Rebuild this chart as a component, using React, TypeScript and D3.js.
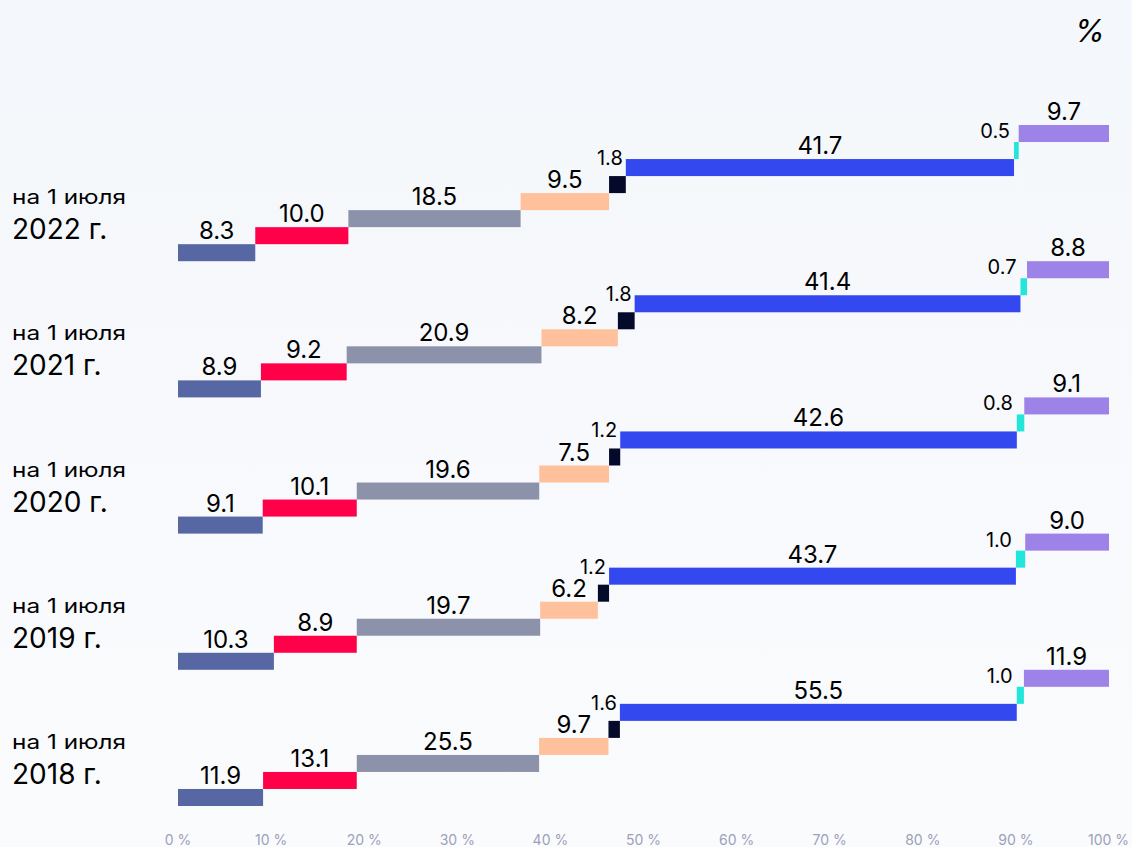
import React from "react";
import * as d3 from "d3";

const years = ["2022", "2021", "2020", "2019", "2018"];
// shares per group, in the order they are drawn left to right
const values2022 = [8.3, 10.0, 18.5, 9.5, 1.8, 41.7, 0.5, 9.7];
const values2021 = [8.9, 9.2, 20.9, 8.2, 1.8, 41.4, 0.7, 8.8];
const values2020 = [9.1, 10.1, 19.6, 7.5, 1.2, 42.6, 0.8, 9.1];
const values2019 = [10.3, 8.9, 19.7, 6.2, 1.2, 43.7, 1.0, 9.0];
const values2018 = [11.9, 13.1, 25.5, 9.7, 1.6, 55.5, 1.0, 11.9];
const seriesColors = ["#5767a4", "#ff0049", "#8d92ab", "#ffc19b", "#050a2b", "#3448f0", "#22e6da", "#9d82e8"];
const xTicks = [0, 10, 20, 30, 40, 50, 60, 70, 80, 90, 100];

const rows = [values2022, values2021, values2020, values2019, values2018];

const W = 1132;
const H = 847;
const font = "Inter, 'Noto Sans', sans-serif";

export default function App() {
  const x = d3.scaleLinear().domain([0, 100]).range([178, 1109]);
  const y = d3.scaleBand().domain(years).range([125, 806]);
  // each segment climbs one step above the previous one
  const step = d3
    .scaleBand<number>()
    .domain(d3.range(8))
    .range([0, y.bandwidth()]);

  return (
    <svg
      width={W}
      height={H}
      style={{ position: "absolute", left: 0, top: 0, display: "block" }}
      fontFamily={font}
    >
      <defs>
        <linearGradient id="bg" x1="0" y1="0" x2="0" y2="1">
          <stop offset="0" stopColor="#f4f7fb" />
          <stop offset="1" stopColor="#fafbfd" />
        </linearGradient>
      </defs>
      <rect width={W} height={H} fill="url(#bg)" />

      <text x={1105} y={42} textAnchor="end" fontSize={31} fontStyle="italic" fill="#000">
        %
      </text>

      {rows.map((vals, r) => {
        const year = years[r];
        const total = d3.sum(vals);
        const base = (y(year) as number) + y.bandwidth();
        let acc = 0;
        return (
          <g key={year}>
            <text x={12} y={base - 57} fontSize={20} fill="#000" textLength={114} lengthAdjust="spacingAndGlyphs">
              на 1 июля
            </text>
            <text x={12} y={base - 22} fontSize={28} fill="#000">
              {year} г.
            </text>
            {vals.map((v, k) => {
              const x0 = x((acc / total) * 100);
              acc += v;
              const x1 = x((acc / total) * 100);
              const top = base - (step(k) as number) - step.bandwidth();
              let label;
              if (k === 4) {
                // thin dark segment: label up and to the left
                label = (
                  <text x={x1 - 3} y={top - 11} textAnchor="end" fontSize={20} fill="#000">
                    {v.toFixed(1)}
                  </text>
                );
              } else if (k === 6) {
                label = (
                  <text x={x0 - 4} y={top - 4} textAnchor="end" fontSize={20} fill="#000">
                    {v.toFixed(1)}
                  </text>
                );
              } else {
                label = (
                  <text x={(x0 + x1) / 2} y={top - 5} textAnchor="middle" fontSize={24} fill="#000">
                    {v.toFixed(1)}
                  </text>
                );
              }
              return (
                <g key={k}>
                  <rect x={x0} y={top} width={x1 - x0} height={step.bandwidth()} fill={seriesColors[k]} />
                  {label}
                </g>
              );
            })}
          </g>
        );
      })}

      {xTicks.map((t) => (
        <text
          key={t}
          x={x(t)}
          y={845}
          textAnchor={t === 100 ? "end" : "middle"}
          dx={t === 100 ? 20 : 0}
          fontSize={14}
          fill="#9ca1ba"
        >
          {t} %
        </text>
      ))}
    </svg>
  );
}
